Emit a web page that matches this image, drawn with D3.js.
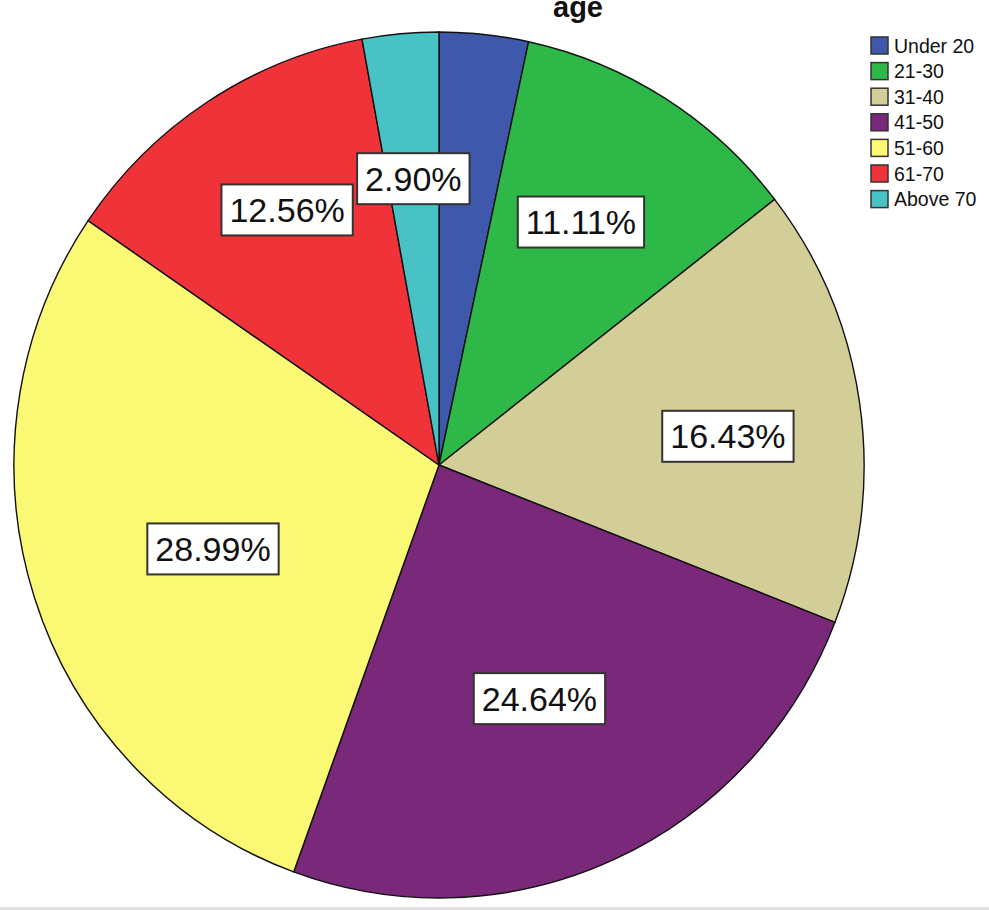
<!DOCTYPE html>
<html>
<head>
<meta charset="utf-8">
<script src="https://cdn.jsdelivr.net/npm/d3@7"></script>
<style>
  html, body { margin: 0; padding: 0; background: #fff; }
  svg { display: block; }
</style>
</head>
<body>
<svg id="chart" width="989" height="910"></svg>
<script>
// ---- data ----
const title = "age";
const categories = ["Under 20", "21-30", "31-40", "41-50", "51-60", "61-70", "Above 70"];
const percents = [3.38, 11.11, 16.43, 24.64, 28.99, 12.56, 2.90];
const colors = ["#3E58AC", "#2EB848", "#D3CE97", "#7A287A", "#FBF873", "#EF3338", "#48C2C5"];
// label layout per slice: [radius fraction, angle offset in degrees]; null = label hidden
const labelLayout = [null, [0.653, -1.4], [0.683, 2.7], [0.589, 0.7], [0.566, -2.2], [0.689, 1.8], [0.664, 0]];

// ---- layout ----
const W = 989, H = 910;
const cx = 439, cy = 465, rx = 425, ry = 433;
const font = "'Liberation Sans', Arial, sans-serif";

const svg = d3.select("#chart");

// bottom border line
svg.append("rect").attr("x", 0).attr("y", H - 3).attr("width", W).attr("height", 3).attr("fill", "#e3e3e3");

const data = categories.map((c, i) => ({ cat: c, value: percents[i], color: colors[i], layout: labelLayout[i] }));

const pie = d3.pie().value(d => d.value).sort(null);
const arcs = pie(data);
const arc = d3.arc().innerRadius(0).outerRadius(rx);

const g = svg.append("g")
  .attr("transform", `translate(${cx},${cy}) scale(1,${ry / rx})`);

g.selectAll("path.slice")
  .data(arcs)
  .join("path")
  .attr("class", "slice")
  .attr("d", arc)
  .attr("fill", d => d.data.color)
  .attr("stroke", "#111")
  .attr("stroke-width", 1.4)
  .attr("vector-effect", "non-scaling-stroke");

// labels
const labelsG = svg.append("g");
arcs.forEach(a => {
  const lay = a.data.layout;
  if (!lay) return;
  const mid = (a.startAngle + a.endAngle) / 2 + lay[1] * Math.PI / 180;
  const r = lay[0] * rx;
  const x = cx + r * Math.sin(mid);
  const y = cy - r * Math.cos(mid) * (ry / rx);
  const txt = a.data.value.toFixed(2) + "%";
  const lg = labelsG.append("g").attr("transform", `translate(${x},${y})`);
  const t = lg.append("text")
    .attr("text-anchor", "middle")
    .attr("dy", "0.35em")
    .attr("font-family", font)
    .attr("font-size", 34)
    .attr("fill", "#111")
    .text(txt);
  const bb = t.node().getBBox();
  const bw = bb.width + 16, bh = 51;
  lg.insert("rect", "text")
    .attr("x", -bw / 2).attr("y", -bh / 2)
    .attr("width", bw).attr("height", bh)
    .attr("fill", "#fff")
    .attr("stroke", "#333")
    .attr("stroke-width", 2);
});

// title
svg.append("text")
  .attr("x", 578).attr("y", 17)
  .attr("text-anchor", "middle")
  .attr("font-family", font)
  .attr("font-weight", "bold")
  .attr("font-size", 29)
  .attr("fill", "#111")
  .text(title);

// legend
const legend = svg.append("g").attr("transform", "translate(871,37)");
const rowH = 25.6;
const items = legend.selectAll("g.item")
  .data(data)
  .join("g")
  .attr("class", "item")
  .attr("transform", (d, i) => `translate(0,${i * rowH})`);
items.append("rect")
  .attr("width", 17).attr("height", 17)
  .attr("fill", d => d.color)
  .attr("stroke", "#333")
  .attr("stroke-width", 1.5);
items.append("text")
  .attr("x", 23).attr("y", 15.5)
  .attr("font-family", font)
  .attr("font-size", 19.5)
  .attr("fill", "#111")
  .text(d => d.cat);
</script>
</body>
</html>
